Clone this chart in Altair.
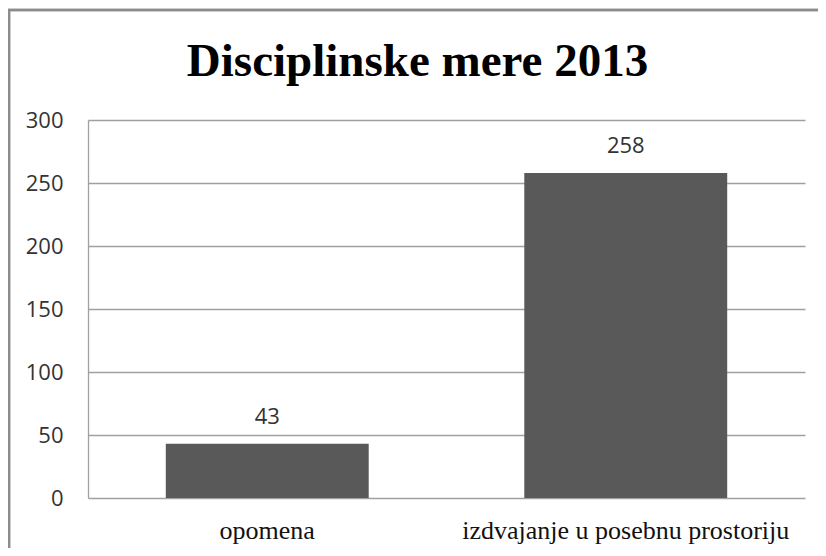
import altair as alt
import pandas as pd

categories = ["opomena", "izdvajanje u posebnu prostoriju"]
values = [43, 258]
y_ticks = [0, 50, 100, 150, 200, 250, 300]
title_text = ["Disciplinske mere 2013"]

df = pd.DataFrame({"kategorija": categories, "broj": values})
tdf = pd.DataFrame({"t": title_text})

W, H = 717, 378
PAD_L, PAD_T = 80, 112

x_enc = alt.X(
    "kategorija:N",
    sort=categories,
    title=None,
    scale=alt.Scale(paddingInner=0.434, paddingOuter=0.217),
    axis=alt.Axis(
        labelAngle=0,
        labelFont="Liberation Serif",
        labelFontSize=26,
        labelColor="#111111",
        labelBaseline="alphabetic",
        labelPadding=40,
        labelLimit=0,
        ticks=False,
        tickSize=0,
        domain=False,
        grid=False,
    ),
)
y_enc = alt.Y(
    "broj:Q",
    title=None,
    scale=alt.Scale(domain=[0, 300], nice=False),
    axis=alt.Axis(
        values=y_ticks,
        labelFont="Open Sans",
        labelFontSize=22,
        labelColor="#333333",
        labelPadding=25,
        ticks=False,
        tickSize=0,
        domain=True,
        domainColor="#a0a0a0",
        domainWidth=1.3,
        grid=True,
        gridColor="#a0a0a0",
        gridWidth=1.3,
    ),
)

bars = alt.Chart(df).mark_bar(color="#595959").encode(x=x_enc, y=y_enc)

labels = alt.Chart(df).mark_text(
    font="Open Sans", fontSize=22, color="#333333", baseline="middle", dy=-27
).encode(x=alt.X("kategorija:N", sort=categories), y="broj:Q", text="broj:Q")

frame = alt.Chart(df).mark_rect(
    fill=None, stroke="#8c8c8c", strokeWidth=2.5, clip=False
).encode(
    x=alt.value(-79), x2=alt.value(W + 40),
    y=alt.value(-110), y2=alt.value(H + 80),
)

title = alt.Chart(tdf).mark_text(
    font="Liberation Serif", fontSize=47, fontWeight="bold", color="#000000",
    align="center", baseline="alphabetic",
).encode(x=alt.value(329.5), y=alt.value(-44.5), text="t:N")

chart = alt.layer(frame, bars, labels, title).properties(
    width=W,
    height=H,
    autosize=alt.AutoSizeParams(type="none"),
    padding={"left": PAD_L, "top": PAD_T, "right": 13, "bottom": 50},
).configure_view(stroke=None)

chart.save("out.html", embed_options={"renderer": "svg", "actions": False})
